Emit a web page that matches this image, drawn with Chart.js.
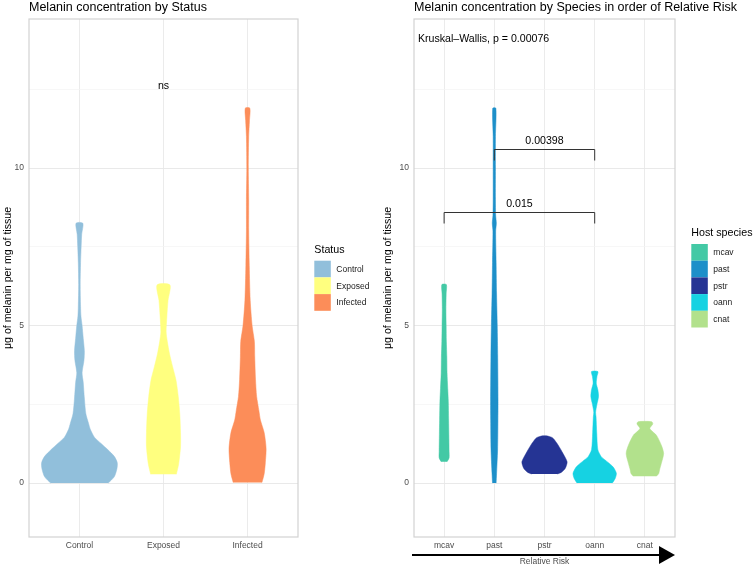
<!DOCTYPE html>
<html><head><meta charset="utf-8">
<script src="https://cdn.jsdelivr.net/npm/chart.js@4.4.1/dist/chart.umd.min.js"></script>
<style>
html,body{margin:0;padding:0;background:#fff;}
#wrap{position:relative;width:754px;height:569px;overflow:hidden;}
canvas{position:absolute;top:0;}
</style></head><body>
<div id="wrap">
<canvas id="c1" width="380" height="569" style="left:0"></canvas>
<canvas id="c2" width="374" height="569" style="left:380px"></canvas>
</div>
<script>
// ---------- data: left panel (Status) ----------
const statusTitle = "Melanin concentration by Status";
const statusCategories = ["Control", "Exposed", "Infected"];
const statusColors = ["#91BFDB", "#FFFF7F", "#FC8D59"];
const controlLevels  = [0, 0.2, 0.45, 0.65, 0.85, 1.05, 1.25, 1.45, 1.7, 1.9, 2.2, 2.7, 3.2, 3.5, 3.9, 4.2, 4.6, 5.0, 5.3, 5.6, 6.3, 7.0, 7.5, 7.9, 8.25];
const controlDensity = [76, 92, 99, 100, 92, 76, 58, 40, 29, 24, 17, 13, 10, 7, 12, 13, 10, 7, 4, 3, 2, 3, 4.5, 6, 9];
const exposedLevels  = [0.28, 0.6, 1.15, 1.6, 2.2, 2.75, 3.27, 3.7, 4.1, 4.5, 4.8, 5.3, 5.8, 6.29];
const exposedDensity = [34, 40, 45, 45, 43, 39, 33, 24, 16, 10, 7, 9, 12, 17];
const infectedLevels  = [0.02, 0.3, 0.65, 1.1, 1.6, 2.0, 2.3, 2.75, 3.3, 4.0, 4.5, 5.0, 5.8, 6.9, 8, 9, 10, 11, 11.5, 11.9];
const infectedDensity = [38, 44, 47, 49, 44, 34, 30, 24, 21, 19, 18, 12, 7, 4.5, 3, 3, 2, 3, 5, 6];
const statusAnnotation = {text: "ns", x: 2, y: 12.6};

// ---------- data: right panel (Species) ----------
const speciesTitle = "Melanin concentration by Species in order of Relative Risk";
const speciesCategories = ["mcav", "past", "pstr", "oann", "cnat"];
const speciesColors = ["#43C9A5", "#1D8FC9", "#253494", "#16D2E2", "#B2E18C"];
const mcavLevels  = [0.68, 0.8, 1.0, 1.55, 2.0, 2.6, 3.0, 3.5, 4.0, 4.5, 5.0, 5.5, 6.0, 6.3];
const mcavDensity = [13, 22, 22, 21, 20, 18.5, 16, 13, 12, 10, 9, 8, 9, 10];
const pastLevels  = [0, 0.3, 1.05, 2, 2.6, 4, 5, 6, 7, 8, 8.25, 8.5, 9, 10, 11, 11.9];
const pastDensity = [8, 10, 14.5, 16, 16.5, 15, 13, 10, 8, 6, 9, 6, 5, 5, 5, 7];
const pstrLevels  = [0.29, 0.34, 0.46, 0.56, 0.68, 0.94, 1.21, 1.40, 1.45, 1.5];
const pstrDensity = [57, 74, 91, 97, 100, 82, 60, 41, 33, 9];
const oannLevels  = [0, 0.15, 0.31, 0.5, 0.63, 0.75, 0.84, 1.06, 1.6, 2.1, 2.25, 2.5, 2.75, 2.96, 3.17, 3.38, 3.54];
const oannDensity = [78, 91, 96, 83, 64, 43, 29, 14, 9, 6, 4, 10, 17, 14, 7, 10, 14];
const cnatLevels  = [0.22, 0.3, 0.42, 0.63, 0.94, 1.2, 1.52, 1.73, 1.88, 1.95];
const cnatDensity = [51, 61, 65, 73, 83, 73, 51, 22, 35, 30];
const kruskalText = {text: "Kruskal\u2013Wallis, p = 0.00076", x: 0.48, y: 14.1};
const bracketFrom   = [2, 1];
const bracketTo     = [4, 4];
const bracketY      = [10.6, 8.6];
const bracketLabels = ["0.00398", "0.015"];
const xAxisTitle = "Relative Risk";

// ---------- shared axis values ----------
const yMin = -1.71, yMax = 14.73;
const yTickValues = [0, 5, 10];
const yTickLabels = ["0", "5", "10"];
const yMinorValues = [2.5, 7.5, 12.5];
const yTitle = "\u03BCg of melanin per mg of tissue";

// ---------- helpers ----------
const FONT = "'Liberation Sans', Arial, Helvetica, sans-serif";
const DENS_MAX = 100, HALF_WIDTH = 0.45;
function violin(label, center, levels, density, color) {
  const right = levels.map((v, i) => ({x: center + density[i] / DENS_MAX * HALF_WIDTH, y: v}));
  const left = levels.map((v, i) => ({x: center - density[i] / DENS_MAX * HALF_WIDTH, y: v})).reverse();
  return {
    label, data: right.concat(left), backgroundColor: color, borderColor: color,
    borderWidth: 0.5, fill: 'shape', pointRadius: 0, tension: 0.25
  };
}
function yScale(width) {
  return {
    type: 'linear', min: yMin, max: yMax,
    afterBuildTicks: s => { s.ticks = yTickValues.concat(yMinorValues).sort((a, b) => a - b).map(v => ({value: v})); },
    afterFit: s => { s.width = width; },
    ticks: {
      callback: v => { const i = yTickValues.indexOf(v); return i >= 0 ? yTickLabels[i] : ''; },
      color: '#4d4d4d', font: {family: FONT, size: 8.5}, padding: 5
    },
    grid: {
      color: c => (c.tick && yTickValues.includes(c.tick.value)) ? '#e6e6e6' : '#f3f3f3',
      lineWidth: c => (c.tick && yTickValues.includes(c.tick.value)) ? 0.9 : 0.7,
      drawTicks: false
    },
    border: {display: false},
    title: {display: true, text: yTitle, color: '#000', font: {family: FONT, size: 10.6}, padding: {top: 2.2, bottom: 0}}
  };
}
function xScale(categories, title) {
  const s = {
    type: 'linear', min: 0.4, max: categories.length + 0.6,
    afterBuildTicks: sc => { sc.ticks = categories.map((_, i) => ({value: i + 1})); },
    afterFit: sc => { sc.height = 32; },
    ticks: {callback: v => categories[v - 1], color: '#4d4d4d', font: {family: FONT, size: 8.5}, padding: 4, maxRotation: 0, autoSkip: false},
    grid: {color: '#e9e9e9', lineWidth: 0.9, drawTicks: false},
    border: {display: false}
  };
  if (title) s.title = {display: true, text: title, color: '#4d4d4d', font: {family: FONT, size: 8.5}, padding: {top: 0, bottom: 2.2}};
  return s;
}
function drawLegend(chart, title) {
  const {ctx, chartArea: a} = chart;
  const ds = chart.data.datasets;
  const key = 16.7;
  const blockH = 15.5 + ds.length * key;
  const top = (a.top + a.bottom) / 2 - blockH / 2;
  const x = a.right + 16.3;
  ctx.save();
  ctx.textAlign = 'left'; ctx.textBaseline = 'middle';
  ctx.fillStyle = '#000'; ctx.font = '10.7px ' + FONT;
  ctx.fillText(title, x, top + 5);
  ds.forEach((d, i) => {
    const y = top + 15.5 + i * key;
    ctx.fillStyle = d.backgroundColor;
    ctx.fillRect(x, y, 16.5, key);
    ctx.fillStyle = '#1a1a1a'; ctx.font = '8.5px ' + FONT;
    ctx.fillText(d.label, x + 22, y + key / 2 + 0.5);
  });
  ctx.restore();
}
function drawFrame(chart, title) {
  const {ctx, chartArea: a} = chart;
  ctx.save();
  ctx.strokeStyle = '#d2d2d2'; ctx.lineWidth = 1.2;
  ctx.strokeRect(a.left, a.top, a.right - a.left, a.bottom - a.top);
  ctx.fillStyle = '#000'; ctx.font = '12.5px ' + FONT;
  ctx.textAlign = 'left'; ctx.textBaseline = 'middle';
  ctx.fillText(title, a.left, 7.5);
  ctx.restore();
}
function baseOptions(padRight, yWidth, categories, xTitle) {
  return {
    responsive: false, animation: false, devicePixelRatio: 1,
    layout: {padding: {left: 0, right: padRight, top: 19, bottom: 0}},
    scales: {x: xScale(categories, xTitle), y: yScale(yWidth)},
    plugins: {legend: {display: false}, tooltip: {enabled: false}, title: {display: false}}
  };
}

// ---------- left chart ----------
new Chart(document.getElementById('c1'), {
  type: 'line',
  data: {datasets: [
    violin(statusCategories[0], 1, controlLevels, controlDensity, statusColors[0]),
    violin(statusCategories[1], 2, exposedLevels, exposedDensity, statusColors[1]),
    violin(statusCategories[2], 3, infectedLevels, infectedDensity, statusColors[2])
  ]},
  options: baseOptions(82, 29, statusCategories),
  plugins: [{
    id: 'leftExtras',
    afterDraw(chart) {
      drawFrame(chart, statusTitle);
      const {ctx, scales: {x, y}} = chart;
      ctx.save();
      ctx.fillStyle = '#000'; ctx.font = '10.6px ' + FONT;
      ctx.textAlign = 'center'; ctx.textBaseline = 'middle';
      ctx.fillText(statusAnnotation.text, x.getPixelForValue(statusAnnotation.x), y.getPixelForValue(statusAnnotation.y));
      ctx.restore();
      drawLegend(chart, "Status");
    }
  }]
});

// ---------- right chart ----------
new Chart(document.getElementById('c2'), {
  type: 'line',
  data: {datasets: [
    violin(speciesCategories[0], 1, mcavLevels, mcavDensity, speciesColors[0]),
    violin(speciesCategories[1], 2, pastLevels, pastDensity, speciesColors[1]),
    violin(speciesCategories[2], 3, pstrLevels, pstrDensity, speciesColors[2]),
    violin(speciesCategories[3], 4, oannLevels, oannDensity, speciesColors[3]),
    violin(speciesCategories[4], 5, cnatLevels, cnatDensity, speciesColors[4])
  ]},
  options: baseOptions(79, 34, speciesCategories, xAxisTitle),
  plugins: [{
    id: 'rightExtras',
    afterDraw(chart) {
      drawFrame(chart, speciesTitle);
      const {ctx, chartArea: a, scales: {x, y}} = chart;
      ctx.save();
      ctx.fillStyle = '#000'; ctx.font = '10.6px ' + FONT;
      ctx.textAlign = 'left'; ctx.textBaseline = 'middle';
      ctx.fillText(kruskalText.text, x.getPixelForValue(kruskalText.x), y.getPixelForValue(kruskalText.y));
      ctx.strokeStyle = '#333'; ctx.lineWidth = 1;
      ctx.textAlign = 'center';
      bracketY.forEach((bv, i) => {
        const x1 = x.getPixelForValue(bracketFrom[i]), x2 = x.getPixelForValue(bracketTo[i]);
        const yy = Math.round(y.getPixelForValue(bv)) + 0.5;
        ctx.beginPath();
        ctx.moveTo(x1, yy + 11); ctx.lineTo(x1, yy); ctx.lineTo(x2, yy); ctx.lineTo(x2, yy + 11);
        ctx.stroke();
        ctx.fillText(bracketLabels[i], (x1 + x2) / 2, yy - 8.5);
      });
      const ay = 555;
      ctx.strokeStyle = '#000'; ctx.lineWidth = 2;
      ctx.beginPath(); ctx.moveTo(a.left - 2, ay); ctx.lineTo(a.right - 14, ay); ctx.stroke();
      ctx.fillStyle = '#000';
      ctx.beginPath(); ctx.moveTo(a.right - 16, ay - 9); ctx.lineTo(a.right, ay); ctx.lineTo(a.right - 16, ay + 9); ctx.closePath(); ctx.fill();
      ctx.restore();
      drawLegend(chart, "Host species");
    }
  }]
});
</script>
</body></html>
